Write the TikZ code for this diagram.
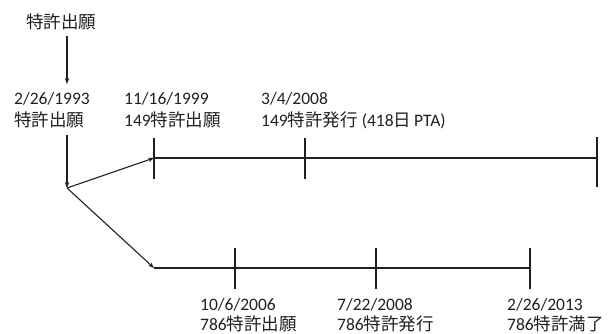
\documentclass[tikz,border=0pt]{standalone}
\usepackage{fontspec}
\setmainfont{Carlito}
\newfontfamily\jp{Noto Sans CJK JP}
\usetikzlibrary{arrows.meta}
\definecolor{ink}{HTML}{231F20}
\begin{document}
\begin{tikzpicture}[x=1pt,y=-1pt,
  font=\fontsize{17.5}{21}\selectfont,
  lbl/.style={anchor=base west, inner sep=0pt, text=ink},
  conn/.style={draw=ink, line width=1.1pt, -{Stealth[length=6pt,width=4.5pt]}},
  tline/.style={draw=ink, line width=2.6pt},
  tick/.style={draw=ink, line width=2.6pt}]
\useasboundingbox (0,0) rectangle (616,334);
% labels
\node[lbl] (top) at (26,29) {\jp 特許出願};
\node[lbl] (d1) at (14,105) {2/26/1993};
\node[lbl] (d1j) at (14,127) {\jp 特許出願};
\node[lbl] (d2) at (124,105) {11/16/1999};
\node[lbl] (d2j) at (124,127) {149{\jp 特許出願}};
\node[lbl] (d3) at (261,105) {3/4/2008};
\node[lbl] (d3j) at (261,127) {149{\jp 特許発行}\kern4pt(418{\jp 日}\kern3pt PTA)};
\node[lbl] (d4) at (200,310) {10/6/2006};
\node[lbl] (d4j) at (200,330) {786{\jp 特許出願}};
\node[lbl] (d5) at (337,310) {7/22/2008};
\node[lbl] (d5j) at (337,330) {786{\jp 特許発行}};
\node[lbl] (d6) at (507,310) {2/26/2013};
\node[lbl] (d6j) at (507,330) {786{\jp 特許満了}};
% connector points
\coordinate (a1) at (67,36);
\coordinate (a2) at (67,84);
\coordinate (b1) at (67,135);
\coordinate (br) at (67,188);
% upper timeline
\coordinate (u0) at (154,158);
\coordinate (u1) at (305,158);
\coordinate (u2) at (597,158);
% lower timeline
\coordinate (l0) at (154,268);
\coordinate (l1) at (235,268);
\coordinate (l2) at (376,268);
\coordinate (l3) at (530,268);
\draw[tline] (u0) -- (u2);
\draw[tline] (l0) -- (l3);
\draw[tick] ([yshift=-21pt]u0) -- ([yshift=20pt]u0);
\draw[tick] ([yshift=-21pt]u1) -- ([yshift=20pt]u1);
\draw[tick] ([yshift=-29pt]u2) -- ([yshift=21pt]u2);
\draw[tick] ([yshift=-21pt]l1) -- ([yshift=20pt]l1);
\draw[tick] ([yshift=-21pt]l2) -- ([yshift=20pt]l2);
\draw[tick] ([yshift=-21pt]l3) -- ([yshift=20pt]l3);
% connectors
\draw[conn] (a1) -- (a2);
\draw[conn] (b1) -- (br);
\draw[conn] (br) -- (u0);
\draw[conn] (br) -- (l0);
\end{tikzpicture}
\end{document}
